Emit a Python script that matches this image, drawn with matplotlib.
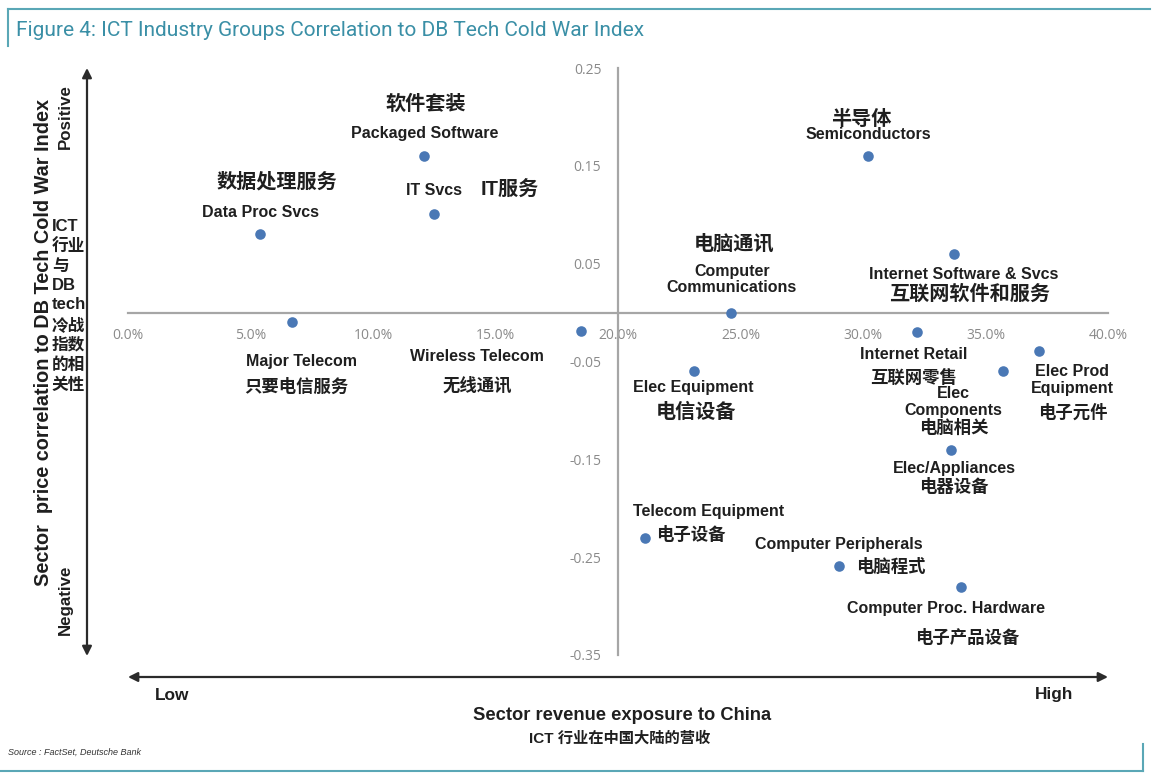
import matplotlib
matplotlib.use("Agg")
import matplotlib.pyplot as plt
from matplotlib.lines import Line2D
from matplotlib.patches import FancyArrowPatch

# ---------------- data ----------------
sectors = ["Packaged Software", "IT Svcs", "Data Proc Svcs", "Major Telecom",
           "Wireless Telecom", "Semiconductors", "Internet Software & Svcs",
           "Computer Communications", "Elec Equipment", "Internet Retail",
           "Elec Components", "Elec Prod Equipment", "Elec/Appliances",
           "Telecom Equipment", "Computer Peripherals", "Computer Proc. Hardware"]
china_exposure = [0.121, 0.125, 0.054, 0.067, 0.185, 0.302, 0.337, 0.246,
                  0.231, 0.322, 0.357, 0.372, 0.336, 0.211, 0.290, 0.340]
correlation = [0.160, 0.101, 0.080, -0.010, -0.019, 0.160, 0.060, 0.000,
               -0.060, -0.020, -0.060, -0.039, -0.140, -0.230, -0.259, -0.280]
x_ticks = [0.0, 0.05, 0.10, 0.15, 0.20, 0.25, 0.30, 0.35, 0.40]
x_tick_labels = ["0.0%", "5.0%", "10.0%", "15.0%", "20.0%", "25.0%", "30.0%", "35.0%", "40.0%"]
y_ticks = [0.25, 0.15, 0.05, -0.05, -0.15, -0.25, -0.35]
y_tick_labels = ["0.25", "0.15", "0.05", "-0.05", "-0.15", "-0.25", "-0.35"]

EN, ZH_L, ZH_S = 11.5, 14.5, 12.5
# labels: (text, dx_px, dy_px, fontsize) per sector index
labels = {
    0: [("软件套装", 1, 52, ZH_L), ("Packaged Software", 0, 23, EN)],
    1: [("IT Svcs", 0, 23, EN), ("IT服务", 76, 24, ZH_L)],
    2: [("数据处理服务", 17, 53, ZH_L), ("Data Proc Svcs", 0, 22, EN)],
    3: [("Major Telecom", 9, -39, EN), ("只要电信服务", 4, -64, ZH_S)],
    4: [("Wireless Telecom", -104, -25, EN), ("无线通讯", -104, -54, ZH_S)],
    5: [("半导体", -7, 37, ZH_L), ("Semiconductors", 0, 22, EN)],
    6: [("Internet Software & Svcs", 10, -21, EN), ("互联网软件和服务", 16, -40, ZH_L)],
    7: [("电脑通讯", 3, 69, ZH_L), ("Computer\nCommunications", 1, 33, EN)],
    8: [("Elec Equipment", -1, -16, EN), ("电信设备", 2, -41, ZH_L)],
    9: [("Internet Retail", -3, -22, EN), ("互联网零售", -3, -45, ZH_S)],
    10: [("Elec\nComponents", -49, -31, EN), ("电脑相关", -49, -56, ZH_S)],
    11: [("Elec Prod\nEquipment", 33, -29, EN), ("电子元件", 33, -61, ZH_S)],
    12: [("Elec/Appliances", 3, -19, EN), ("电器设备", 3, -37, ZH_S)],
    13: [("Telecom Equipment", 64, 26, EN), ("电子设备", 46, 3, ZH_S)],
    14: [("Computer Peripherals", 0, 21, EN), ("电脑程式", 52, 0, ZH_S)],
    15: [("Computer Proc. Hardware", -15, -22, EN), ("电子产品设备", 6, -51, ZH_S)],
}

FAM = ["Liberation Sans", "Noto Sans CJK SC", "DejaVu Sans"]
plt.rcParams["font.family"] = FAM

W, H = 1154, 779
fig = plt.figure(figsize=(W / 100, H / 100), dpi=100)
fig.patch.set_facecolor("white")

# axes so that 0%->x=128px, 40%->1108px; 0.25->y=68px, -0.35->655px
ax = fig.add_axes([128 / W, (H - 655) / H, 980 / W, 587 / H])
ax.set_xlim(0, 0.40)
ax.set_ylim(-0.35, 0.25)
ax.patch.set_alpha(0)
for s in ["top", "right"]:
    ax.spines[s].set_visible(False)
ax.spines["left"].set_position(("data", 0.20))
ax.spines["bottom"].set_position(("data", 0.0))
for s in ["left", "bottom"]:
    ax.spines[s].set_color("#a6a6a6")
    ax.spines[s].set_linewidth(1.6)
ax.set_xticks(x_ticks)
ax.set_xticklabels(x_tick_labels)
ax.set_yticks(y_ticks)
ax.set_yticklabels(y_tick_labels)
ax.tick_params(axis="both", length=0, colors="#808080", labelsize=10)
ax.tick_params(axis="x", pad=11)
ax.tick_params(axis="y", pad=12)
for t in ax.get_xticklabels() + ax.get_yticklabels():
    t.set_family(["Open Sans", "DejaVu Sans"])
    t.set_color("#8a8a8a")

ax.scatter(china_exposure, correlation, s=58, color="#4a78b5", zorder=5, linewidths=0)

for i, items in labels.items():
    for txt, dx, dy, fs in items:
        ax.annotate(txt, (china_exposure[i], correlation[i]), xytext=(dx, dy),
                    textcoords="offset pixels", ha="center", va="center",
                    fontsize=fs, fontweight="bold", color="#1f1f1f",
                    family=FAM, linespacing=1.15, annotation_clip=False)

# ----- outer decorations in figure pixel coordinates -----
def fx(px):
    return px / W

def fy(py):
    return 1 - py / H

teal = "#5aa7b6"
fig.add_artist(Line2D([fx(8), fx(1150)], [fy(9), fy(9)], color=teal, lw=1.5))
fig.add_artist(Line2D([fx(8), fx(8)], [fy(9), fy(46)], color=teal, lw=1.5))
fig.add_artist(Line2D([fx(0), fx(1143)], [fy(771), fy(771)], color=teal, lw=1.5))
fig.add_artist(Line2D([fx(1143), fx(1143)], [fy(744), fy(771)], color=teal, lw=1.5))
fig.text(fx(16), fy(31), "Figure 4: ICT Industry Groups Correlation to DB Tech Cold War Index",
         fontsize=15, color="#3a8fa6", ha="left", va="center", family=["Roboto", "DejaVu Sans"])

arrow_kw = dict(arrowstyle="<|-|>", color="#2b2b2b", lw=1.6, mutation_scale=14, shrinkA=0, shrinkB=0)
fig.add_artist(FancyArrowPatch((fx(87), fy(68)), (fx(87), fy(656)),
                               transform=fig.transFigure, **arrow_kw))
fig.add_artist(FancyArrowPatch((fx(128), fy(677)), (fx(1108), fy(677)),
                               transform=fig.transFigure, **arrow_kw))

fig.text(fx(65), fy(117), "Positive", rotation=90, ha="center", va="center",
         fontsize=12.2, fontweight="bold", color="#1f1f1f")
fig.text(fx(65), fy(600), "Negative", rotation=90, ha="center", va="center",
         fontsize=12.2, fontweight="bold", color="#1f1f1f")
fig.text(fx(44), fy(343), "Sector  price correlation to DB Tech Cold War Index", rotation=90,
         ha="center", va="center", fontsize=14.3, fontweight="bold", color="#1f1f1f")
fig.text(fx(52), fy(306), "ICT\n行业\n与\nDB\ntech\n冷战\n指数\n的相\n关性", ha="left", va="center",
         fontsize=12, fontweight="bold", color="#1f1f1f", linespacing=1.35, family=FAM)

fig.text(fx(172), fy(695), "Low", ha="center", va="center", fontsize=12.4, fontweight="bold", color="#1f1f1f")
fig.text(fx(1054), fy(695), "High", ha="center", va="center", fontsize=12.4, fontweight="bold", color="#1f1f1f")
fig.text(fx(622), fy(715), "Sector revenue exposure to China", ha="center", va="center",
         fontsize=13.2, fontweight="bold", color="#1f1f1f")
fig.text(fx(620), fy(738), "ICT 行业在中国大陆的营收", ha="center", va="center",
         fontsize=11, fontweight="bold", color="#1f1f1f", family=FAM)
fig.text(fx(8), fy(752), "Source : FactSet, Deutsche Bank", ha="left", va="center",
         fontsize=6.5, style="italic", color="#333333")

fig.savefig("out.png", dpi=100, facecolor="white")
